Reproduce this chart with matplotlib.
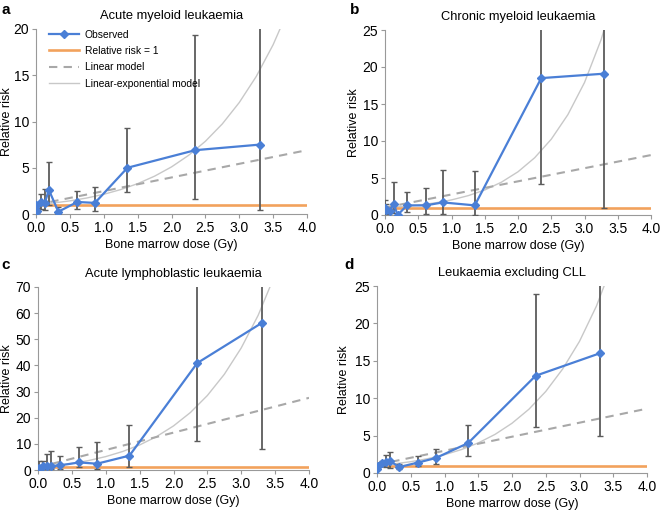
import numpy as np
import matplotlib
matplotlib.use("Agg")
import matplotlib.pyplot as plt

plt.rcParams['font.family'] = ['Liberation Sans', 'DejaVu Sans']

nan = np.nan

# mean bone marrow dose of each dose group (Gy)
dose = [0.0, 0.02, 0.07, 0.13, 0.19, 0.33, 0.61, 0.87, 1.35, 2.35, 3.30]

# observed relative risk with lower / upper confidence limits
rr_a = [1.0, 0.3, 1.3, 1.2, 2.6, 0.25, 1.3, 1.2, 5.0, 6.9, 7.5]
lo_a = [nan, 0.1, 0.5, 0.4, 1.0, 0.05, 0.5, 0.3, 2.4, 1.6, 0.4]
hi_a = [nan, 0.7, 2.2, 2.7, 5.6, 0.8, 2.5, 2.9, 9.3, 19.3, 30.0]

rr_b = [0.9, 0.7, 0.6, 1.5, 0.0, 1.3, 1.3, 1.7, 1.3, 18.5, 19.1]
lo_b = [0.3, 0.2, nan, 0.3, nan, 0.4, 0.2, 0.2, 0.0, 4.2, 1.0]
hi_b = [2.0, 1.5, nan, 4.4, nan, 3.1, 3.6, 6.1, 5.9, 40.0, 40.0]

rr_c = [0.2, 0.8, 1.4, 1.7, 1.5, 1.8, 2.9, 2.4, 5.5, 40.9, 56.2]
lo_c = [nan, 0.2, 0.3, 0.3, 0.2, 0.5, 1.0, 0.3, 1.0, 11.0, 8.2]
hi_c = [nan, 3.4, 3.5, 6.2, 7.4, 5.2, 8.7, 10.7, 17.3, 150.0, 150.0]

rr_d = [0.6, 1.0, 1.4, 1.5, 1.6, 0.8, 1.4, 2.0, 4.0, 13.0, 16.0]
lo_d = [nan, nan, 0.9, 0.8, 0.7, 0.5, 0.9, 1.2, 2.3, 6.2, 4.9]
hi_d = [nan, nan, 1.6, 2.4, 2.85, 1.15, 2.3, 3.25, 6.4, 23.9, 40.0]

# fitted models
lin_dose = [0.0, 4.0]
lin_a = [1.0, 6.9]
lin_b = [1.0, 8.1]
lin_c = [1.0, 27.6]
lin_d = [1.1, 8.6]

model_dose = [0.0, 0.25, 0.5, 0.75, 1.0, 1.25, 1.5, 1.75, 2.0, 2.25, 2.5,
              2.75, 3.0, 3.25, 3.5, 3.75, 4.0]
linexp_a = [1.0, 1.18, 1.42, 1.73, 2.13, 2.64, 3.28, 4.09, 5.09, 6.33, 7.86,
            9.74, 12.05, 14.86, 18.3, 22.5, 27.5]
linexp_b = [1.0, 1.14, 1.34, 1.63, 2.04, 2.61, 3.38, 4.43, 5.84, 7.73, 10.24,
            13.56, 17.9, 23.7, 31.2, 40.9, 53.6]
linexp_c = [1.0, 1.63, 2.49, 3.63, 5.13, 7.08, 9.58, 12.79, 16.86, 22.0, 28.5,
            36.6, 46.7, 59.2, 74.8, 94.0, 117.8]
linexp_d = [1.0, 1.22, 1.51, 1.91, 2.44, 3.13, 4.02, 5.17, 6.65, 8.52, 10.9,
            13.9, 17.6, 22.3, 28.2, 35.5, 44.6]

ref_dose = [0.0, 4.0]
ref_rr = [1.0, 1.0]

titles = ['Acute myeloid leukaemia', 'Chronic myeloid leukaemia',
          'Acute lymphoblastic leukaemia', 'Leukaemia excluding CLL']
letters = ['a', 'b', 'c', 'd']
ymax = [20, 25, 70, 25]
ystep = [5, 5, 10, 5]

W, H = 662, 512
# axes boxes in pixels: left, top, right, bottom
boxes = [(36, 29, 307, 214), (385, 30, 651, 215),
         (38, 287, 309, 470), (377, 286, 647, 473)]
ylabel_x = [13, 360, 13, 350]
letter_pos = [(1, 10), (350, 10), (1, 265), (344, 265)]

fig = plt.figure(figsize=(W / 100, H / 100), dpi=100)

blue = '#4a7fd6'
orange = '#f2a25c'

panels = [(rr_a, lo_a, hi_a, lin_a, linexp_a),
          (rr_b, lo_b, hi_b, lin_b, linexp_b),
          (rr_c, lo_c, hi_c, lin_c, linexp_c),
          (rr_d, lo_d, hi_d, lin_d, linexp_d)]

for i, (rr, lo, hi, lin, lexp) in enumerate(panels):
    l, t, r, b = boxes[i]
    ax = fig.add_axes([l / W, 1 - b / H, (r - l) / W, (b - t) / H])

    ax.plot(model_dose, lexp, color='#c8c8c8', lw=1.0, zorder=1,
            label='Linear-exponential model')
    ax.plot(lin_dose, lin, color='#a8a8a8', lw=1.5, ls=(0, (4, 3)), zorder=2,
            label='Linear model')
    ax.plot(ref_dose, ref_rr, color=orange, lw=1.9, zorder=3,
            label='Relative risk = 1')

    d = np.array(dose)
    y = np.array(rr)
    lo = np.array(lo)
    hi = np.array(hi)
    ok = ~np.isnan(lo)
    ax.errorbar(d[ok], y[ok], yerr=[y[ok] - lo[ok], hi[ok] - y[ok]],
                fmt='none', ecolor='#5c5c5c', elinewidth=1.3, capsize=2.5,
                capthick=1.0, zorder=4)
    ax.plot(dose, rr, color=blue, lw=1.6, marker='D', ms=4, zorder=5,
            label='Observed')

    ax.set_xlim(0, 4)
    ax.set_ylim(0, ymax[i])
    ax.set_xticks(np.arange(0, 4.01, 0.5))
    ax.set_xticklabels([f'{v:.1f}' for v in np.arange(0, 4.01, 0.5)])
    ax.set_yticks(np.arange(0, ymax[i] + 0.1, ystep[i]))
    ax.tick_params(labelsize=10, length=3, color='#999999', pad=2)
    for s in ['top', 'right']:
        ax.spines[s].set_visible(False)
    for s in ['left', 'bottom']:
        ax.spines[s].set_color('#999999')
    ax.set_xlabel('Bone marrow dose (Gy)', fontsize=9, labelpad=3)
    ax.set_ylabel('Relative risk', fontsize=9)
    ax.yaxis.set_label_coords((ylabel_x[i] - l) / (r - l), 0.5)
    ax.set_title(titles[i], fontsize=9.3, pad=7)

    fig.text(letter_pos[i][0] / W, 1 - letter_pos[i][1] / H, letters[i],
             fontsize=11, fontweight='bold', va='center', ha='left')

    if i == 0:
        h, lab = ax.get_legend_handles_labels()
        order = [3, 2, 1, 0]
        ax.legend([h[k] for k in order], [lab[k] for k in order],
                  loc='upper left', bbox_to_anchor=(0.025, 1.03), frameon=False,
                  fontsize=7.4, handlelength=2.9, handletextpad=0.6,
                  labelspacing=0.62, borderaxespad=0.2)

fig.savefig('out.png', dpi=100)
